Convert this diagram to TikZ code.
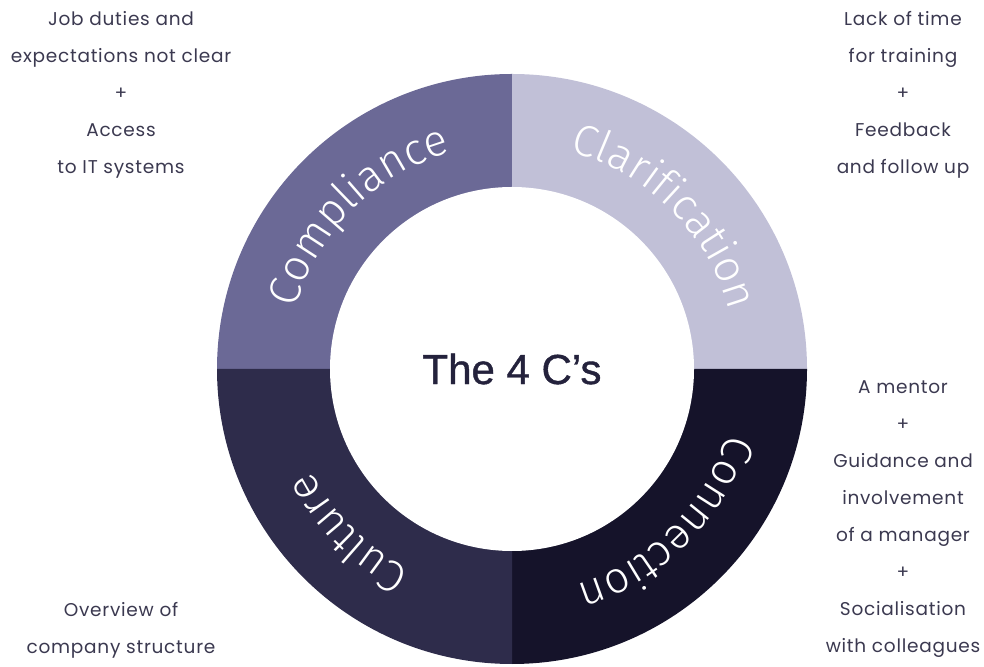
\documentclass[tikz,border=0pt]{standalone}
\usepackage{fontspec}
\setmainfont{Poppins}[LetterSpace=4]
\newfontfamily\ringfont{Fira Sans}[UprightFont=* Light]
\newfontfamily\titlefont{Liberation Sans}[FakeBold=1]
\usetikzlibrary{decorations.text}
\definecolor{complcol}{HTML}{6B6996}
\definecolor{clarifcol}{HTML}{C1C0D7}
\definecolor{connecol}{HTML}{15132A}
\definecolor{cultcol}{HTML}{2E2C4B}
\definecolor{sidecol}{HTML}{3B3950}
\definecolor{titlecol}{HTML}{24223C}

\begin{document}
\begin{tikzpicture}[x=1pt,y=1pt,
        sidetext/.style={align=center,inner sep=0pt,text=sidecol,
          font=\fontsize{18.5}{37}\selectfont},
        ringtext/.style={decorate,decoration={text along path,
          text align=center,text color=white,text={|\ringfont\fontsize{44}{44}\selectfont|#1}}}]
      \useasboundingbox (0,0) rectangle (984,666);
      \coordinate (c) at (512,297);
      % the four quarters of the ring
      \foreach \a/\col in {90/complcol,0/clarifcol,-90/connecol,180/cultcol}
        \fill[\col] (c) -- ++(\a:295) arc[start angle=\a,end angle=\a+90,radius=295] -- cycle;
      \fill[white] (c) circle (182);
      % labels along the ring, all clockwise
      \path[ringtext=Compliance] (c) ++(180:225) arc[start angle=180,end angle=90,radius=225];
      \path[ringtext=Clarification] (c) ++(90:225) arc[start angle=90,end angle=0,radius=225];
      \path[ringtext=Connection] (c) ++(0:225) arc[start angle=0,end angle=-90,radius=225];
      \path[ringtext=Culture] (c) ++(-90:225) arc[start angle=-90,end angle=-180,radius=225];
      \node[text=titlecol,font=\titlefont\fontsize{42}{42}\selectfont] (title) at (c) {The 4 C’s};
      % problems round the ring
      \node[sidetext] (compl) at (121,571) {Job duties and\\expectations not clear\\+\\Access\\to IT systems};
      \node[sidetext] (clarif) at (903,571) {Lack of time\\for training\\+\\Feedback\\and follow up};
      \node[sidetext] (conn) at (903,146.5) {A mentor\\+\\Guidance and\\involvement\\of a manager\\+\\Socialisation\\with colleagues};
      \node[sidetext] (cult) at (121,35.5) {Overview of\\company structure};
    \end{tikzpicture}
\end{document}
